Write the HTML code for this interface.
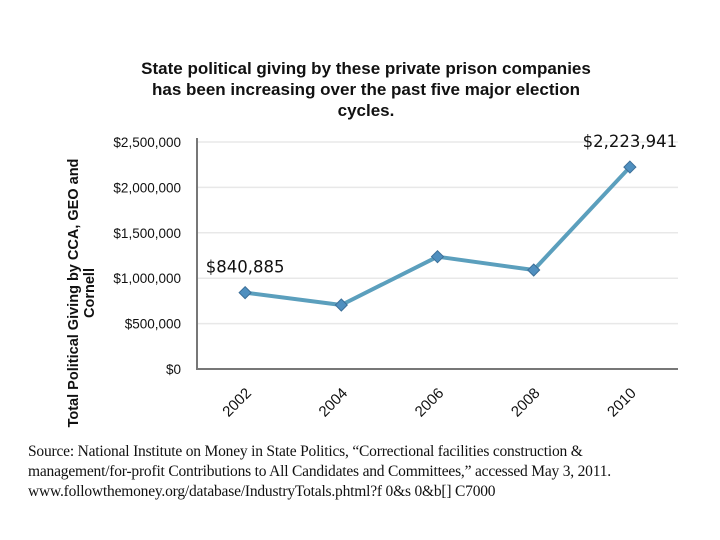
<!DOCTYPE html>
<html><head><meta charset="utf-8"><style>
body{margin:0;background:#fff;width:720px;height:540px;overflow:hidden}
svg{display:block}
</style></head><body>
<svg width="720" height="540" xmlns="http://www.w3.org/2000/svg" font-family="Liberation Sans, sans-serif">
<g id="title" font-weight="bold" font-size="17" text-anchor="middle" fill="#111">
<text x="366" y="74">State political giving by these private prison companies</text>
<text x="366" y="95">has been increasing over the past five major election</text>
<text x="366" y="116">cycles.</text>
</g>
<g font-weight="bold" font-size="14.5" text-anchor="middle" fill="#111">
<text transform="translate(78,293) rotate(-90)">Total Political Giving by CCA, GEO and</text>
<text transform="translate(94,293) rotate(-90)">Cornell</text>
</g>
<g id="grid"></g><g id="yt"></g><g id="xt"></g><g id="series"></g>
<g font-family="Liberation Serif, serif" font-size="15.5" fill="#111" letter-spacing="-0.2">
<text x="28" y="456">Source: National Institute on Money in State Politics, “Correctional facilities construction &amp;</text>
<text x="28" y="476">management/for-profit Contributions to All Candidates and Committees,” accessed May 3, 2011.</text>
<text x="28" y="496">www.followthemoney.org/database/IndustryTotals.phtml?f  0&amp;s  0&amp;b[]  C7000</text>
</g>
</svg>
<script>
const categories=["2002","2004","2006","2008","2010"];
const values=[840885,705000,1237000,1090000,2223941];
const yTicks=[0,500000,1000000,1500000,2000000,2500000];
const yTickLabels=["$0","$500,000","$1,000,000","$1,500,000","$2,000,000","$2,500,000"];
const pointLabels=["$840,885","","","","$2,223,941"];
const NS="http://www.w3.org/2000/svg";
const L=197,R=678,T=142,B=369;
const y=v=>B-(v/2500000)*(B-T);
const x=i=>L+(i+0.5)*(R-L)/categories.length;
function mk(t,a,p){const e=document.createElementNS(NS,t);for(const k in a)e.setAttribute(k,a[k]);p.appendChild(e);return e;}
const grid=document.getElementById('grid'),yt=document.getElementById('yt'),xt=document.getElementById('xt'),ser=document.getElementById('series');
yTicks.forEach((v,i)=>{
 if(v>0){const g=mk('line',{x1:L,x2:R,y1:y(v),y2:y(v),stroke:'#e8e8e8','stroke-width':1.5},grid);
 
 }
 const t=mk('text',{x:181,y:y(v)+5,'text-anchor':'end','font-size':13.5,fill:'#111'},yt);t.textContent=yTickLabels[i];
 
 
});
const ax=mk('polyline',{points:`${L},${T-4} ${L},${B} ${R},${B}`,fill:'none',stroke:'#777','stroke-width':2},grid);


categories.forEach((c,i)=>{
 const t=mk('text',{transform:`translate(${x(i)+7},${394}) rotate(-45)`,'text-anchor':'end','font-size':15,fill:'#111'},xt);t.textContent=c;
 
 
});
const pl=mk('polyline',{points:values.map((v,i)=>x(i)+','+y(v)).join(' '),fill:'none',stroke:'#5b9fbd','stroke-width':4,'stroke-linejoin':'round'},ser);


values.forEach((v,i)=>{
 const cx=x(i),cy=y(v);
 const d=mk('polygon',{points:`${cx},${cy-6} ${cx+6},${cy} ${cx},${cy+6} ${cx-6},${cy}`,fill:'#4f8fbf',stroke:'#3c6f98','stroke-width':1},ser);
 
 
 if(pointLabels[i]){const t=mk('text',{x:cx,y:cy-20,'text-anchor':'middle','font-size':16.5,fill:'#111','font-family':'DejaVu Sans, sans-serif'},ser);t.textContent=pointLabels[i];
 
 }
});
</script>
</body></html>
